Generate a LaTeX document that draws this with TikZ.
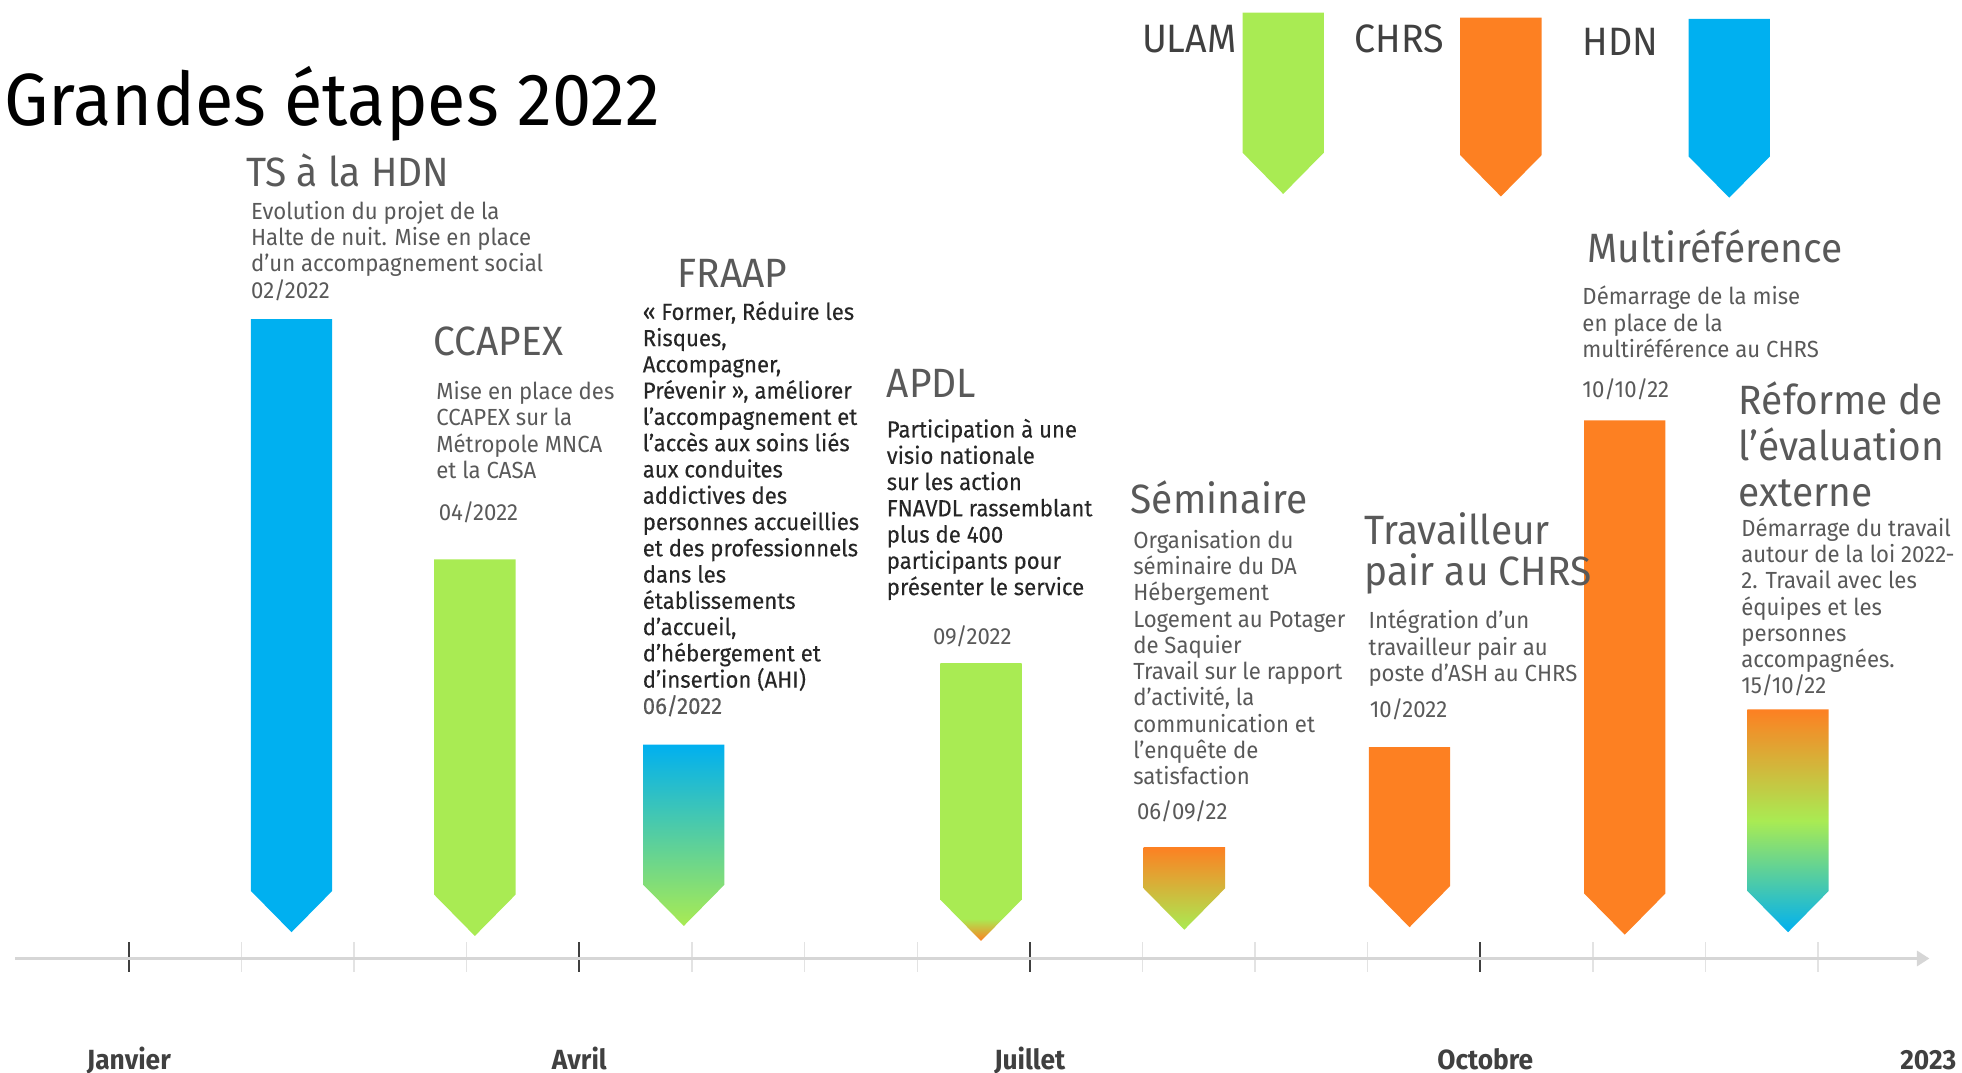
\documentclass[tikz,border=0pt]{standalone}
\usepackage{fontspec}
\setmainfont{Fira Sans}[FakeStretch=0.95]
\newfontfamily\corpsfort{Fira Sans}[FakeBold=0.2, FakeStretch=0.95]
\usetikzlibrary{arrows.meta}

\definecolor{hdnblue}{HTML}{00B0F0}
\definecolor{ulamgreen}{HTML}{A9EB53}
\definecolor{chrsorange}{HTML}{FD8022}
\definecolor{headgrey}{HTML}{595959}
\definecolor{legendgrey}{HTML}{404040}
\definecolor{textgrey}{HTML}{595959}
\definecolor{darktext}{HTML}{262626}
\definecolor{axisgrey}{HTML}{D6D6D6}
\definecolor{minorgrey}{HTML}{E3E3E3}

% green bar whose tip turns orange
\pgfdeclareverticalshading{pointeorange}{100bp}{color(0bp)=(chrsorange); color(25bp)=(chrsorange); color(29bp)=(ulamgreen); color(100bp)=(ulamgreen)}

% milestone bar: options, x centre, top, tip
\newcommand{\fleche}[4]{\path[#1] (#2-32.5,#3) -- (#2+32.5,#3) -- (#2+32.5,#4-33) -- (#2,#4) -- (#2-32.5,#4-33) -- cycle;}

\begin{document}
\begin{tikzpicture}[x=0.01cm,y=-0.01cm,
  titre/.style={font=\fontsize{16.8}{18}\selectfont, text=black, inner sep=0, anchor=base west},
  rubrique/.style={font=\fontsize{9.3}{10.5}\selectfont, text=headgrey, inner sep=0, anchor=base west},
  rubrique2/.style={font=\fontsize{9.3}{#1}\selectfont, text=headgrey, inner sep=0, anchor=north west, align=left, execute at begin node=\strut},
  legende/.style={font=\fontsize{9}{10}\selectfont, text=legendgrey, inner sep=0, anchor=base west},
  corps/.style={font=\fontsize{5.3}{5.97}\selectfont, text=textgrey, inner sep=0, anchor=north west, align=left, execute at begin node=\strut},
  fort/.style={corps, font=\fontsize{5.3}{5.97}\corpsfort, text=darktext},
  mois/.style={font=\fontsize{6.3}{7}\selectfont\bfseries, text=legendgrey, inner sep=0, anchor=base},
  axe/.style={draw=axisgrey, line width=0.7pt, -{Triangle[length=1mm,width=1.2mm]}},
  graduation/.style={draw=minorgrey, line width=0.3pt},
  trimestre/.style={draw=legendgrey, line width=0.5pt}]

\useasboundingbox (0,0) rectangle (1568,857);

\node[titre] (titre) at (3,100) {Grandes étapes 2022};

% legend
\fleche{fill=ulamgreen}{1025.5}{10}{155}
\fleche{fill=chrsorange}{1199.5}{14}{157}
\fleche{fill=hdnblue}{1382}{15}{158}
\node[legende] (ulam) at (912,42) {ULAM};
\node[legende] (chrs) at (1082,42) {CHRS};
\node[legende] (hdn) at (1264,44) {HDN};

% time axis
\coordinate (axdebut) at (12,766);
\coordinate (axfin) at (1542,766);
\foreach \k in {0,...,15}
  \draw[graduation] (103+90*\k,753) -- (103+90*\k,777);
\foreach \k in {0,4,8,12}
  \draw[trimestre] (103+90*\k,753) -- (103+90*\k,777);
\draw[axe] (axdebut) -- (axfin);

\node[mois] (janvier) at (103,855) {Janvier};
\node[mois] (avril) at (463,855) {Avril};
\node[mois] (juillet) at (823,855) {Juillet};
\node[mois] (octobre) at (1187,855) {Octobre};
\node[mois] (an) at (1541,855) {2023};

% bars
\fleche{fill=hdnblue}{233}{255}{745}
\fleche{fill=ulamgreen}{379.5}{447}{748}
\fleche{top color=hdnblue, bottom color=ulamgreen}{546.5}{595}{740}
\fleche{shading=pointeorange}{784}{530}{752}
\fleche{top color=chrsorange, bottom color=ulamgreen}{946.5}{677}{743}
\fleche{fill=chrsorange}{1126.5}{597}{741}
\fleche{fill=chrsorange}{1298.5}{336}{747}
\fleche{top color=chrsorange, bottom color=hdnblue, middle color=ulamgreen}{1429}{567}{745}

% TS a la HDN
\node[rubrique] (ts) at (196,149) {TS à la HDN};
\node[corps] (tstexte) at (200,160) {Evolution du projet de la\\Halte de nuit. Mise en place\\d’un accompagnement social\\02/2022};

% CCAPEX
\node[rubrique] (ccapex) at (346,284) {CCAPEX};
\node[corps] (ccapextexte) at (348,304) {Mise en place des\\CCAPEX sur la\\Métropole MNCA\\et la CASA};
\node[corps] (ccapexdate) at (350,400) {04/2022};

% FRAAP
\node[rubrique] (fraap) at (541,230) {FRAAP};
\node[fort] (fraaptexte) at (513,240) {«~Former, Réduire les\\Risques,\\Accompagner,\\Prévenir~», améliorer\\l’accompagnement et\\l’accès aux soins liés\\aux conduites\\addictives des\\personnes accueillies\\et des professionnels\\dans les\\établissements\\d’accueil,\\d’hébergement et\\d’insertion (AHI)\\\textcolor{textgrey}{06/2022}};

% APDL
\node[rubrique] (apdl) at (708,318) {APDL};
\node[fort] (apdltexte) at (708,334) {Participation à une\\visio nationale\\sur les action\\FNAVDL rassemblant\\plus de 400\\participants pour\\présenter le service};
\node[corps] (apdldate) at (745,499) {09/2022};

% Seminaire
\node[rubrique] (seminaire) at (903,410) {Séminaire};
\node[corps] (seminairetexte) at (905,423) {Organisation du\\séminaire du DA\\Hébergement\\Logement au Potager\\de Saquier\\Travail sur le rapport\\d’activité, la\\communication et\\l’enquête de\\satisfaction};
\node[corps] (seminairedate) at (908,639) {06/09/22};

% Travailleur pair
\node[rubrique2=9.4] (pair) at (1090,409) {Travailleur\\pair au CHRS};
\node[corps] (pairtexte) at (1093,487) {Intégration d’un\\travailleur pair au\\poste d’ASH au CHRS};
\node[corps] (pairdate) at (1094,558) {10/2022};

% Multireference
\node[rubrique] (multi) at (1268,210) {Multiréférence};
\node[corps] (multitexte) at (1264,228) {Démarrage de la mise\\en place de la\\multiréférence au CHRS};
\node[corps] (multidate) at (1264,302) {10/10/22};

% Reforme de l'evaluation externe
\node[rubrique2=10.5] (reforme) at (1389,304) {Réforme de\\l’évaluation\\externe};
\node[corps] (reformetexte) at (1391,413) {Démarrage du travail\\autour de la loi 2022-\\2. Travail avec les\\équipes et les\\personnes\\accompagnées.\\15/10/22};

\end{tikzpicture}
\end{document}
